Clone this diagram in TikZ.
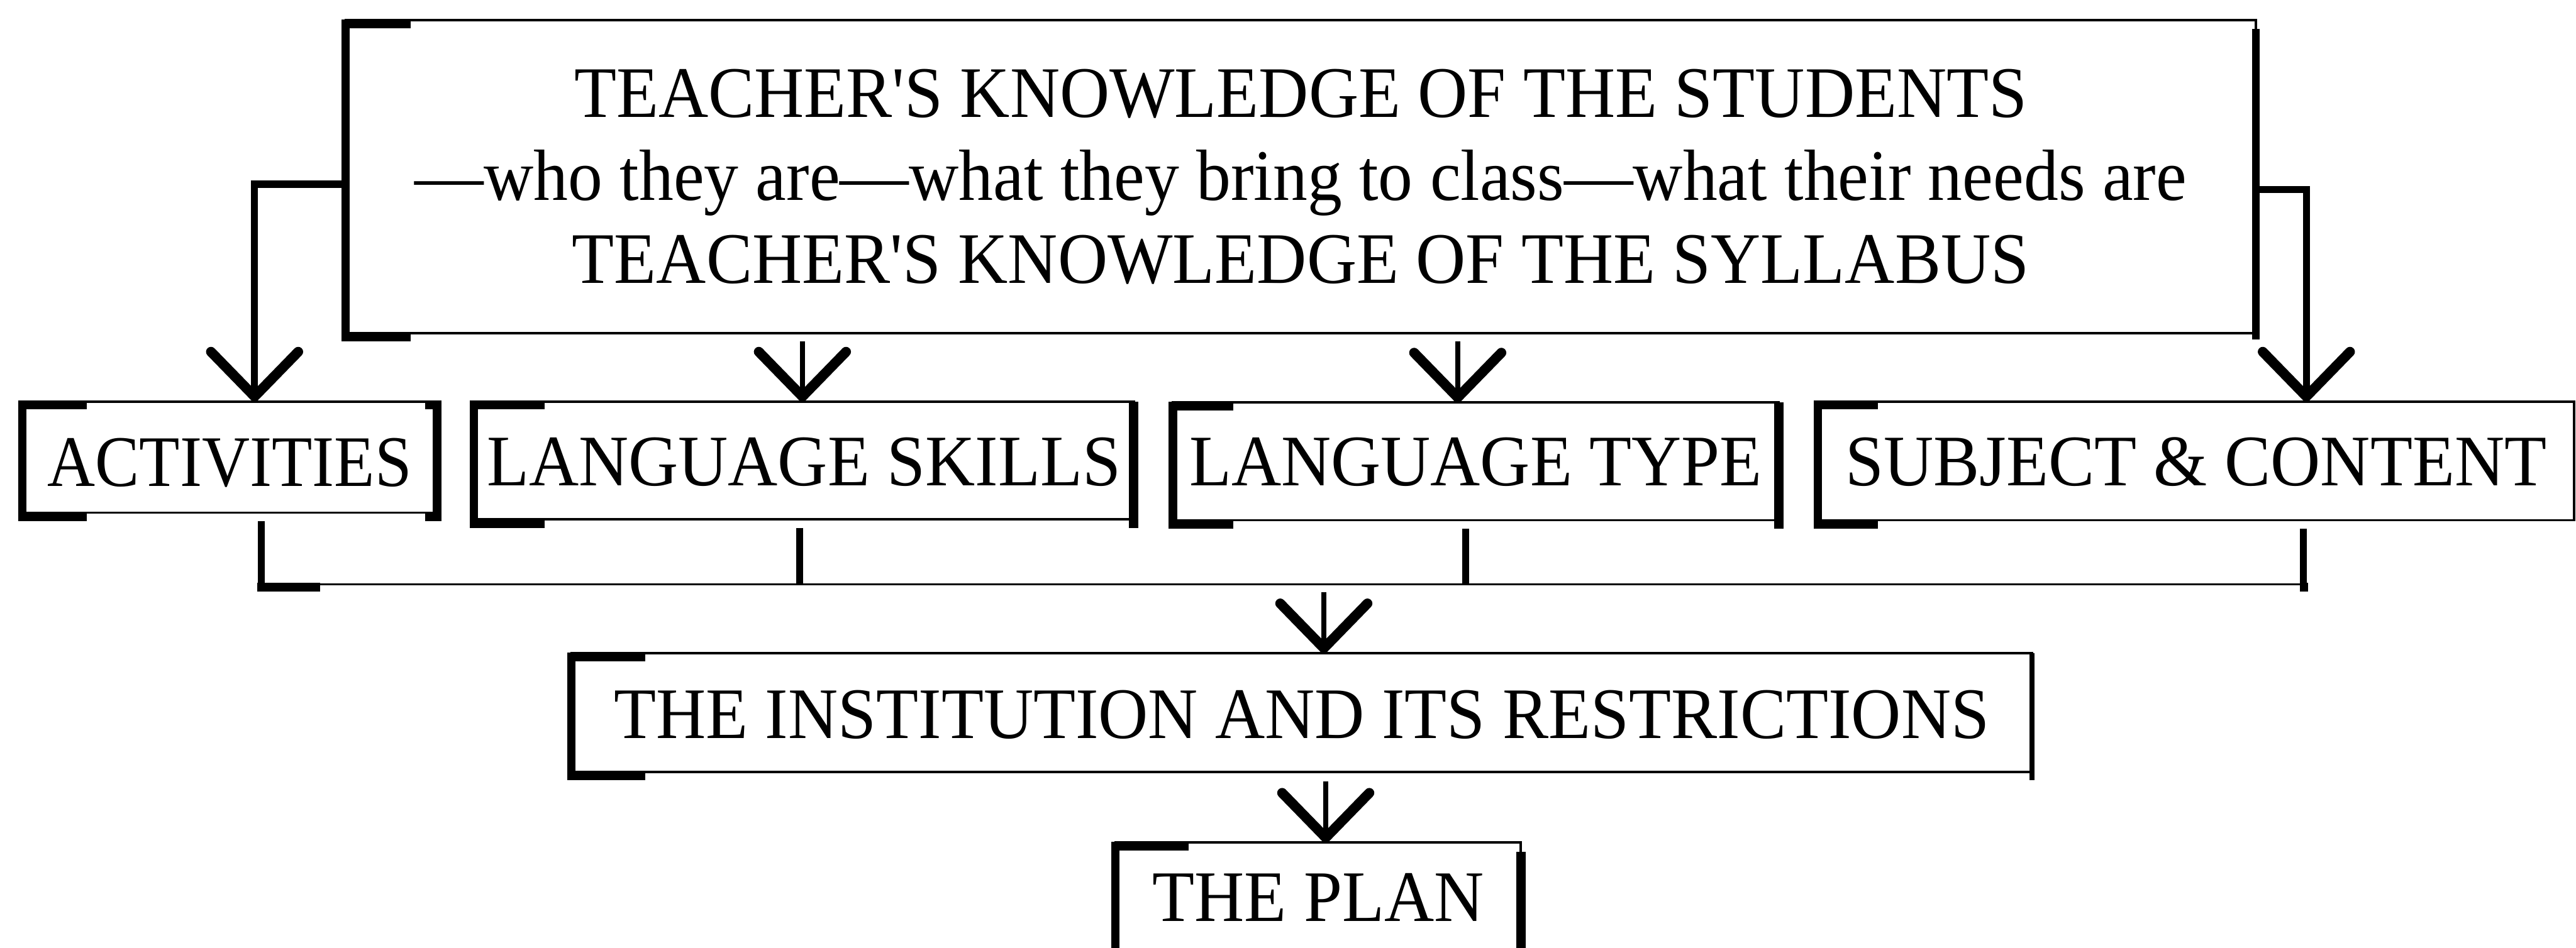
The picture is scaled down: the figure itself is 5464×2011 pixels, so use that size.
\documentclass[tikz,border=0pt]{standalone}
\usepackage{graphicx}
\usepackage{fontspec}
\setmainfont{Liberation Serif}[FakeStretch=0.95]
% same face without the TeX quote mapping, for a straight apostrophe
\newfontfamily\aposfont{Liberation Serif}[FakeStretch=0.95, Ligatures=ResetAll]
\newcommand\apos{{\aposfont\symbol{39}}}
\usetikzlibrary{arrows.meta}

% heavy "[" side of a box: bar plus top and bottom tabs (#2 = tab width)
\newcommand\leftbracket[2]{%
  \fill ([shift={(-9,-2)}]#1.north west) rectangle ([shift={(9,18)}]#1.south west);
  \fill ([shift={(-9,-2)}]#1.north west) rectangle ([shift={(#2,17)}]#1.north west);
  \fill ([shift={(-9,0)}]#1.south west) rectangle ([shift={(#2,18)}]#1.south west);
}
% heavy right side of a box: #2 start below top, #3 run past bottom, #4 half width
\newcommand\rightbar[4]{%
  \fill ([shift={(-#4,#2)}]#1.north east) rectangle ([shift={(#4,#3)}]#1.south east);
}

\begin{document}
\begin{tikzpicture}[x=0.1pt,y=-0.1pt,
  box/.style={draw, line width=0.5pt, inner sep=0pt, outer sep=0pt,
              font=\fontsize{15.4}{17.6}\selectfont},
  vee/.style={-{Straight Barb[length=9.5pt,width=18.5pt,line width=2.1pt,round]}},
  feed/.style={line width=1.5pt, vee},
  drop/.style={line width=1.1pt, vee},
  busv/.style={line width=1.5pt},
  busline/.style={line width=0.5pt}
]
\useasboundingbox[fill=white] (0,0) rectangle (5464,2011);
\clip (0,0) rectangle (5464,2011);

% boxes
\node[box, minimum width=405.2pt, minimum height=66.4pt, align=center] (top) at (2759,375)
  {TEACHER\apos S KNOWLEDGE OF THE STUDENTS\\
   —who they are—what they bring to class—what their needs are\\
   TEACHER\apos S KNOWLEDGE OF THE SYLLABUS};
\node[box, minimum width=88pt, minimum height=23.6pt, text height=12.4pt, text depth=0pt]
  (act) at (487,970) {\scalebox{0.96}[1]{ACTIVITIES}};
\node[box, minimum width=140pt, minimum height=25pt, text height=10.8pt, text depth=0pt]
  (skills) at (1705,977) {LANGUAGE SKILLS};
\node[box, minimum width=128.5pt, minimum height=25pt, text height=10.4pt, text depth=0pt]
  (type) at (3130,979) {LANGUAGE TYPE};
\node[box, minimum width=160.4pt, minimum height=25.2pt, text height=10.6pt, text depth=0pt]
  (subj) at (4658,978) {SUBJECT \& CONTENT};
\node[box, minimum width=309.8pt, minimum height=25.2pt, text height=11pt, text depth=0pt]
  (inst) at (2761,1512) {THE INSTITUTION AND ITS RESTRICTIONS};
\node[box, minimum width=86pt, minimum height=34.2pt, text height=5pt, text depth=5.8pt]
  (plan) at (2796,1959) {THE PLAN};

% heavy sides
\leftbracket{top}{138}
\leftbracket{act}{137}
\leftbracket{skills}{150}
\leftbracket{type}{129}
\leftbracket{subj}{127}
\leftbracket{inst}{156}
\leftbracket{plan}{155}
\rightbar{top}{18}{14}{8}
\rightbar{act}{0}{18}{9}
\fill ([shift={(-25,-2)}]act.north east) rectangle ([shift={(9,17)}]act.north east);
\fill ([shift={(-25,0)}]act.south east) rectangle ([shift={(9,18)}]act.south east);
\rightbar{skills}{0}{18}{10}
\rightbar{type}{0}{18}{10}
\rightbar{inst}{0}{17}{5}
\rightbar{plan}{20}{0}{10}

% feeds from the top box
\coordinate (lk) at (540,391);
\coordinate (rk) at (4892,402);
\coordinate (ks) at (1702,0);
\coordinate (kt) at (3092,0);
\draw[feed] (top.west |- lk) -- (lk) -- (act.north -| lk);
\draw[feed] (top.east |- rk) -- (rk) -- (subj.north -| rk);
\draw[drop, shorten <=1.8pt] (top.south -| ks) -- (skills.north -| ks);
\draw[drop, shorten <=1.8pt] (top.south -| kt) -- (type.north -| kt);

% collecting bus
\coordinate (bus) at (0,1240);
\coordinate (b1) at (554,0);
\coordinate (b2) at (1696,0);
\coordinate (b3) at (3109,0);
\coordinate (b4) at (4886,0);
\draw[busv, shorten <=1.8pt] (act.south -| b1) -- (bus -| b1);
\draw[busv, shorten <=1.8pt] (skills.south -| b2) -- (bus -| b2);
\draw[busv, shorten <=1.8pt] (type.south -| b3) -- (bus -| b3);
\draw[busv, shorten <=1.8pt] (subj.south -| b4) -- (bus -| b4);
\draw[busline] (bus -| b1) -- (bus -| b4);
\fill (545,1236) rectangle (679,1255);
\fill (4878,1236) rectangle (4896,1255);

% down to the institution and the plan
\coordinate (ki) at (2808,0);
\coordinate (kp) at (2812,0);
\draw[drop, shorten <=1.7pt] (bus -| ki) -- (inst.north -| ki);
\draw[drop, shorten <=2pt] (inst.south -| kp) -- (plan.north -| kp);
\end{tikzpicture}
\end{document}
